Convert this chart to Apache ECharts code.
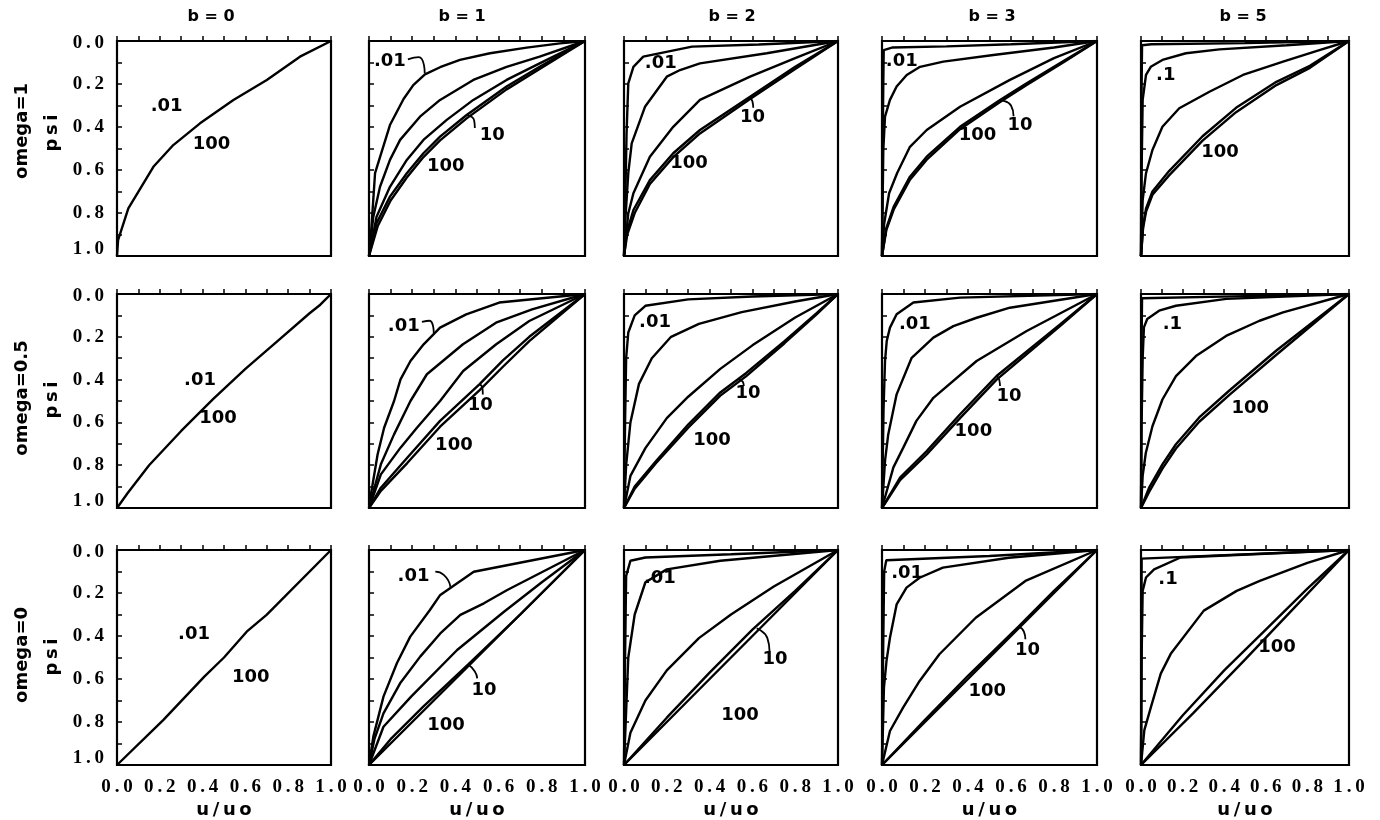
<!DOCTYPE html>
<html><head><meta charset="utf-8">
<script src="https://cdn.jsdelivr.net/npm/echarts/dist/echarts.min.js"></script>
<style>html,body{margin:0;padding:0;background:#fff}#c{width:1380px;height:820px}</style>
</head><body><div id="c"></div>
<script>
// ---------------- DATA ----------------
const bTitles = ['b = 0', 'b = 1', 'b = 2', 'b = 3', 'b = 5'];
const omegaTitles = ['omega=1', 'omega=0.5', 'omega=0'];
const yName = 'psi';
const xName = 'u/uo';
const curveParams = ['.01', '.1', '1', '10', '100'];

// each panel: list of curves (order = curveParams), points are [u/uo, psi]
const om1_b0 = [
  [[0,1],[0.005,0.926],[0.053,0.778],[0.17,0.585],[0.263,0.484],[0.388,0.383],[0.544,0.274],[0.70,0.181],[0.855,0.073],[1,0]]
];
const om1_b1 = [
  [[0,1],[0.005,0.96],[0.028,0.615],[0.097,0.391],[0.16,0.27],[0.205,0.205],[0.259,0.155],[0.329,0.122],[0.421,0.088],[0.56,0.057],[0.73,0.031],[0.884,0.011],[1,0]],
  [[0,1],[0.02,0.817],[0.051,0.678],[0.097,0.553],[0.144,0.46],[0.236,0.352],[0.329,0.274],[0.483,0.181],[0.637,0.12],[0.79,0.073],[1,0]],
  [[0,1],[0.035,0.817],[0.097,0.678],[0.175,0.553],[0.252,0.46],[0.36,0.367],[0.483,0.274],[0.637,0.181],[0.79,0.104],[1,0]],
  [[0,1],[0.035,0.848],[0.097,0.724],[0.175,0.615],[0.252,0.522],[0.329,0.445],[0.452,0.344],[0.637,0.212],[0.79,0.12],[1,0]],
  [[0,1],[0.04,0.862],[0.1,0.742],[0.175,0.635],[0.252,0.54],[0.329,0.462],[0.452,0.36],[0.637,0.225],[0.79,0.13],[1,0]]
];
const om1_b2 = [
  [[0,1],[0.003,0.894],[0.012,0.429],[0.02,0.197],[0.044,0.12],[0.09,0.073],[0.318,0.026],[0.63,0.016],[1,0]],
  [[0,1],[0.005,0.85],[0.012,0.74],[0.02,0.615],[0.036,0.476],[0.098,0.306],[0.2,0.166],[0.262,0.135],[0.355,0.104],[0.667,0.057],[1,0]],
  [[0,1],[0.02,0.802],[0.044,0.708],[0.121,0.538],[0.23,0.399],[0.355,0.274],[0.589,0.166],[0.8,0.08],[1,0]],
  [[0,1],[0.012,0.894],[0.044,0.786],[0.121,0.647],[0.23,0.522],[0.355,0.414],[0.589,0.259],[0.8,0.12],[1,0]],
  [[0,1],[0.015,0.9],[0.05,0.8],[0.121,0.665],[0.23,0.54],[0.355,0.43],[0.589,0.27],[0.8,0.13],[1,0]]
];
const om1_b3 = [
  [[0,1],[0.003,0.5],[0.006,0.2],[0.008,0.042],[0.05,0.03],[0.3,0.025],[0.6,0.015],[1,0]],
  [[0,1],[0.003,0.75],[0.006,0.507],[0.014,0.352],[0.037,0.274],[0.068,0.212],[0.115,0.158],[0.177,0.12],[0.285,0.096],[0.518,0.065],[0.8,0.03],[1,0]],
  [[0,1],[0.01,0.85],[0.033,0.708],[0.07,0.615],[0.13,0.492],[0.208,0.414],[0.363,0.306],[0.595,0.181],[0.8,0.08],[1,0]],
  [[0,1],[0.02,0.87],[0.054,0.771],[0.13,0.631],[0.208,0.538],[0.363,0.399],[0.549,0.274],[0.673,0.197],[0.85,0.09],[1,0]],
  [[0,1],[0.02,0.88],[0.054,0.785],[0.13,0.645],[0.208,0.552],[0.363,0.41],[0.549,0.284],[0.673,0.205],[0.85,0.095],[1,0]]
];
const om1_b5 = [
  [[0,1],[0.002,0.3],[0.005,0.02],[0.05,0.015],[0.5,0.01],[1,0]],
  [[0,1],[0.003,0.6],[0.008,0.274],[0.024,0.158],[0.047,0.12],[0.103,0.088],[0.216,0.057],[0.377,0.039],[0.7,0.02],[1,0]],
  [[0,1],[0.008,0.74],[0.024,0.615],[0.055,0.507],[0.103,0.399],[0.184,0.313],[0.329,0.236],[0.49,0.158],[0.683,0.096],[0.85,0.045],[1,0]],
  [[0,1],[0.01,0.86],[0.024,0.78],[0.055,0.70],[0.135,0.605],[0.296,0.443],[0.457,0.311],[0.651,0.19],[0.812,0.115],[1,0]],
  [[0,1],[0.01,0.87],[0.024,0.795],[0.055,0.715],[0.135,0.625],[0.296,0.463],[0.457,0.331],[0.651,0.205],[0.812,0.125],[1,0]]
];
const om05_b0 = [
  [[0,1],[0.05,0.93],[0.15,0.8],[0.3,0.64],[0.45,0.49],[0.6,0.35],[0.75,0.22],[0.9,0.09],[0.95,0.05],[0.97,0.03],[1,0]]
];
const om05_b1 = [
  [[0,1],[0.009,0.936],[0.04,0.749],[0.07,0.625],[0.116,0.5],[0.146,0.399],[0.192,0.313],[0.253,0.235],[0.329,0.157],[0.45,0.095],[0.603,0.04],[1,0]],
  [[0,1],[0.017,0.936],[0.055,0.796],[0.116,0.656],[0.192,0.5],[0.268,0.375],[0.435,0.235],[0.588,0.134],[0.755,0.072],[1,0]],
  [[0,1],[0.055,0.843],[0.146,0.718],[0.222,0.625],[0.329,0.5],[0.436,0.36],[0.589,0.235],[0.742,0.126],[1,0]],
  [[0,1],[0.055,0.905],[0.177,0.765],[0.329,0.593],[0.511,0.422],[0.62,0.31],[0.742,0.2],[1,0]],
  [[0,1],[0.055,0.92],[0.177,0.79],[0.329,0.62],[0.511,0.45],[0.62,0.34],[0.742,0.22],[1,0]]
];
const om05_b2 = [
  [[0,1],[0.005,0.6],[0.01,0.3],[0.02,0.18],[0.05,0.1],[0.1,0.055],[0.3,0.025],[0.6,0.012],[1,0]],
  [[0,1],[0.01,0.8],[0.03,0.6],[0.07,0.42],[0.13,0.3],[0.22,0.2],[0.35,0.14],[0.55,0.085],[0.8,0.035],[1,0]],
  [[0,1],[0.03,0.85],[0.1,0.72],[0.2,0.58],[0.3,0.48],[0.45,0.35],[0.6,0.24],[0.8,0.11],[1,0]],
  [[0,1],[0.05,0.9],[0.15,0.78],[0.3,0.61],[0.45,0.46],[0.57,0.37],[0.75,0.22],[0.9,0.09],[1,0]],
  [[0,1],[0.05,0.91],[0.15,0.79],[0.3,0.625],[0.45,0.475],[0.57,0.385],[0.75,0.23],[0.9,0.095],[1,0]]
];
const om05_b3 = [
  [[0,1],[0.007,0.547],[0.014,0.313],[0.022,0.22],[0.037,0.157],[0.068,0.095],[0.146,0.04],[0.363,0.017],[1,0]],
  [[0,1],[0.014,0.78],[0.029,0.656],[0.068,0.469],[0.138,0.298],[0.239,0.204],[0.332,0.15],[0.44,0.111],[0.595,0.064],[1,0]],
  [[0,1],[0.053,0.81],[0.099,0.718],[0.16,0.593],[0.239,0.485],[0.44,0.313],[0.673,0.173],[1,0]],
  [[0,1],[0.084,0.858],[0.208,0.734],[0.363,0.562],[0.533,0.383],[0.828,0.142],[1,0]],
  [[0,1],[0.084,0.87],[0.208,0.75],[0.363,0.58],[0.533,0.4],[0.828,0.15],[1,0]]
];
const om05_b5 = [
  [[0,1],[0.002,0.3],[0.005,0.02],[0.5,0.01],[1,0]],
  [[0,1],[0.003,0.6],[0.008,0.3],[0.014,0.156],[0.03,0.117],[0.087,0.078],[0.168,0.055],[0.41,0.023],[1,0]],
  [[0,1],[0.008,0.85],[0.023,0.743],[0.055,0.618],[0.103,0.493],[0.168,0.384],[0.264,0.29],[0.409,0.196],[0.57,0.125],[0.683,0.086],[1,0]],
  [[0,1],[0.039,0.905],[0.103,0.796],[0.168,0.702],[0.28,0.577],[0.425,0.451],[0.651,0.264],[1,0]],
  [[0,1],[0.039,0.925],[0.103,0.816],[0.168,0.722],[0.28,0.597],[0.425,0.471],[0.651,0.284],[1,0]]
];
const om0_b0 = [
  [[0,1],[0.217,0.79],[0.408,0.589],[0.5,0.5],[0.606,0.38],[0.699,0.302],[1,0]]
];
const om0_b1 = [
  [[0,1],[0.02,0.868],[0.067,0.682],[0.129,0.527],[0.191,0.403],[0.282,0.279],[0.33,0.209],[0.485,0.101],[1,0]],
  [[0,1],[0.025,0.88],[0.067,0.76],[0.144,0.62],[0.237,0.496],[0.33,0.388],[0.423,0.302],[0.532,0.248],[0.64,0.186],[1,0]],
  [[0,1],[0.067,0.822],[0.195,0.682],[0.408,0.465],[0.625,0.287],[0.8,0.15],[1,0]],
  [[0,1],[0.1,0.88],[0.25,0.73],[0.462,0.53],[0.7,0.3],[1,0]],
  [[0,1],[0.25,0.75],[0.5,0.5],[0.75,0.25],[1,0]]
];
const om0_b2 = [
  [[0,1],[0.005,0.5],[0.01,0.12],[0.03,0.05],[0.1,0.035],[0.5,0.02],[1,0]],
  [[0,1],[0.01,0.75],[0.02,0.5],[0.05,0.3],[0.1,0.15],[0.2,0.09],[0.45,0.05],[1,0]],
  [[0,1],[0.03,0.85],[0.1,0.7],[0.2,0.56],[0.35,0.41],[0.5,0.3],[0.7,0.17],[1,0]],
  [[0,1],[0.2,0.78],[0.4,0.57],[0.6,0.37],[0.8,0.19],[1,0]],
  [[0,1],[0.25,0.75],[0.5,0.5],[0.75,0.25],[1,0]]
];
const om0_b3 = [
  [[0,1],[0.005,0.5],[0.01,0.1],[0.02,0.048],[0.5,0.028],[1,0]],
  [[0,1],[0.009,0.64],[0.021,0.516],[0.037,0.408],[0.068,0.253],[0.114,0.175],[0.175,0.129],[0.283,0.082],[0.59,0.036],[1,0]],
  [[0,1],[0.037,0.842],[0.098,0.733],[0.175,0.609],[0.267,0.485],[0.436,0.315],[0.667,0.144],[1,0]],
  [[0,1],[0.2,0.79],[0.4,0.585],[0.636,0.355],[0.8,0.19],[1,0]],
  [[0,1],[0.25,0.75],[0.5,0.5],[0.75,0.25],[1,0]]
];
const om0_b5 = [
  [[0,1],[0.002,0.5],[0.003,0.04],[1,0]],
  [[0,1],[0.003,0.5],[0.008,0.19],[0.024,0.128],[0.063,0.09],[0.19,0.035],[1,0]],
  [[0,1],[0.016,0.838],[0.048,0.73],[0.095,0.575],[0.143,0.483],[0.302,0.282],[0.46,0.19],[0.571,0.144],[0.8,0.06],[1,0]],
  [[0,1],[0.2,0.77],[0.4,0.56],[0.6,0.37],[0.8,0.18],[1,0]],
  [[0,1],[0.25,0.76],[0.5,0.51],[0.75,0.255],[1,0]]
];

// curve annotations: [text, u, psi]
const om1_b0_notes = [['.01',0.232,0.306],['100',0.442,0.479]];
const om1_b1_notes = [['.01',0.097,0.096],['10',0.571,0.437],['100',0.355,0.585]];
const om1_b2_notes = [['.01',0.172,0.104],['10',0.6,0.355],['100',0.304,0.569]];
const om1_b3_notes = [['.01',0.092,0.096],['10',0.642,0.391],['100',0.444,0.44]];
const om1_b5_notes = [['.1',0.119,0.158],['100',0.38,0.518]];
const om05_b0_notes = [['.01',0.388,0.402],['100',0.472,0.579]];
const om05_b1_notes = [['.01',0.161,0.15],['10',0.515,0.519],['100',0.393,0.706]];
const om05_b2_notes = [['.01',0.145,0.131],['10',0.579,0.463],['100',0.411,0.682]];
const om05_b3_notes = [['.01',0.153,0.142],['10',0.591,0.48],['100',0.425,0.643]];
const om05_b5_notes = [['.1',0.151,0.144],['100',0.525,0.532]];
const om0_b0_notes = [['.01',0.36,0.391],['100',0.625,0.592]];
const om0_b1_notes = [['.01',0.206,0.124],['10',0.532,0.651],['100',0.357,0.814]];
const om0_b2_notes = [['.01',0.168,0.13],['10',0.706,0.51],['100',0.542,0.767]];
const om0_b3_notes = [['.01',0.117,0.108],['10',0.677,0.465],['100',0.49,0.659]];
const om0_b5_notes = [['.1',0.13,0.136],['100',0.654,0.452]];

// leader hooks from annotations to curves: [[u,psi],...]
const om1_b1_hooks = [[[0.18,0.085],[0.23,0.075],[0.258,0.15]], [[0.49,0.405],[0.487,0.37],[0.455,0.345]]];
const om1_b2_hooks = [[[0.604,0.31],[0.6,0.28],[0.585,0.262]]];
const om1_b3_hooks = [[[0.612,0.35],[0.6,0.3],[0.55,0.276]]];
const om05_b1_hooks = [[[0.245,0.13],[0.28,0.125],[0.3,0.185]], [[0.527,0.47],[0.525,0.44],[0.511,0.42]]];
const om05_b2_hooks = [[[0.56,0.43],[0.555,0.41],[0.535,0.40]]];
const om05_b3_hooks = [[[0.549,0.43],[0.545,0.40],[0.533,0.383]]];
const om0_b1_hooks = [[[0.307,0.101],[0.346,0.116],[0.377,0.171]], [[0.501,0.597],[0.49,0.565],[0.462,0.535]]];
const om0_b2_hooks = [[[0.68,0.47],[0.67,0.41],[0.62,0.365]]];
const om0_b3_hooks = [[[0.667,0.415],[0.66,0.38],[0.636,0.358]]];

// ---------------- LAYOUT ----------------
const panels = [
  [om1_b0, om1_b1, om1_b2, om1_b3, om1_b5],
  [om05_b0, om05_b1, om05_b2, om05_b3, om05_b5],
  [om0_b0, om0_b1, om0_b2, om0_b3, om0_b5]
];
const notes = [
  [om1_b0_notes, om1_b1_notes, om1_b2_notes, om1_b3_notes, om1_b5_notes],
  [om05_b0_notes, om05_b1_notes, om05_b2_notes, om05_b3_notes, om05_b5_notes],
  [om0_b0_notes, om0_b1_notes, om0_b2_notes, om0_b3_notes, om0_b5_notes]
];
const hooks = [
  [[], om1_b1_hooks, om1_b2_hooks, om1_b3_hooks, []],
  [[], om05_b1_hooks, om05_b2_hooks, om05_b3_hooks, []],
  [[], om0_b1_hooks, om0_b2_hooks, om0_b3_hooks, []]
];
const colLeft = [117, 369, 624, 882, 1141];
const colWidth = [214, 216, 214, 215, 208];
const rowTop = [41, 294, 550];
const rowHeight = [215, 214, 215];
const titleX = [211, 462, 732, 992, 1243];
const rowLabelY = [131, 398, 655];

const SANS = '"DejaVu Sans", Arial, sans-serif';
const SERIF = '"Liberation Serif", "Times New Roman", serif';
const TS = '\u2009';

function tickText(v) {
  const k = Math.round(v * 10);
  if (k % 2 !== 0 || k < 0 || k > 10) return '';
  return (k / 10).toFixed(1).split('').join(TS);
}
const tickFont = {fontFamily: SERIF, fontWeight: 'bold', fontSize: 19, color: '#000'};

const grids = [], xAxes = [], yAxes = [], series = [];
for (let r = 0; r < 3; r++) {
  for (let c = 0; c < 5; c++) {
    const i = r * 5 + c;
    grids.push({left: colLeft[c], top: rowTop[r], width: colWidth[c], height: rowHeight[r],
      show: true, borderColor: '#000', borderWidth: 2.2, backgroundColor: 'transparent'});
    xAxes.push({
      gridIndex: i, type: 'value', min: 0, max: 1, interval: 0.1,
      axisLine: {show: false},
      axisTick: {show: true, inside: true, length: 5, lineStyle: {color: '#000', width: 1.5}},
      splitLine: {show: false},
      axisLabel: {show: r === 2, margin: 13, formatter: tickText, ...tickFont},
      name: r === 2 ? xName.split('').join(TS) : '',
      nameLocation: 'middle', nameGap: 36,
      nameTextStyle: {fontFamily: SANS, fontWeight: 'bold', fontSize: 18, color: '#000'}
    });
    yAxes.push({
      gridIndex: i, type: 'value', min: 0, max: 1, interval: 0.1, inverse: true,
      axisLine: {show: false},
      axisTick: {show: true, inside: true, length: 5, lineStyle: {color: '#000', width: 1.5}},
      splitLine: {show: false},
      axisLabel: {
        show: c === 0, margin: 13,
        formatter: function (v) {
          const t = tickText(v);
          if (!t) return '';
          const k = Math.round(v * 10);
          if (k === 10) return '{lo|' + t + '}';
          if (k === 0) return '{hi|' + t + '}';
          return '{n|' + t + '}';
        },
        rich: {
          n: {...tickFont},
          lo: {...tickFont, padding: [0, 0, 14, 0]},
          hi: {...tickFont, padding: [4, 0, 0, 0]}
        }
      }
    });
    panels[r][c].forEach(function (curve) {
      series.push({type: 'line', xAxisIndex: i, yAxisIndex: i, data: curve,
        symbol: 'none', showSymbol: false, silent: true, animation: false,
        lineStyle: {color: '#000', width: 2.4}});
    });
    hooks[r][c].forEach(function (h) {
      series.push({type: 'line', xAxisIndex: i, yAxisIndex: i, data: h, smooth: 0.6,
        symbol: 'none', showSymbol: false, silent: true, animation: false,
        lineStyle: {color: '#000', width: 1.8}});
    });
    series.push({type: 'scatter', xAxisIndex: i, yAxisIndex: i, silent: true, animation: false,
      symbolSize: 0, itemStyle: {color: '#000'},
      data: notes[r][c].map(function (n) { return [n[1], n[2], n[0]]; }),
      label: {show: true, position: 'inside', formatter: function (p) { return p.data[2]; },
        fontFamily: SANS, fontWeight: 'bold', fontSize: 18, color: '#000',
        textBorderWidth: 0, textBorderColor: 'transparent', opacity: 1}});
  }
}

const graphics = [];
bTitles.forEach(function (t, c) {
  graphics.push({type: 'text', x: titleX[c], y: 17,
    style: {text: t, font: 'bold 16px ' + SANS, fill: '#000', textAlign: 'center', textVerticalAlign: 'middle', verticalAlign: 'middle'}});
});
omegaTitles.forEach(function (t, r) {
  graphics.push({type: 'text', x: 22, y: rowLabelY[r], rotation: Math.PI / 2,
    style: {text: t, font: 'bold 18px ' + SANS, fill: '#000', textAlign: 'center', textVerticalAlign: 'middle', verticalAlign: 'middle'}});
  graphics.push({type: 'text', x: 52, y: rowLabelY[r] + 2, rotation: Math.PI / 2,
    style: {text: yName.split('').join(TS), font: 'bold 18px ' + SANS, fill: '#000', textAlign: 'center', textVerticalAlign: 'middle', verticalAlign: 'middle'}});
});

const chart = echarts.init(document.getElementById('c'), null, {renderer: 'canvas', width: 1380, height: 820});
chart.setOption({
  backgroundColor: '#fff',
  animation: false,
  grid: grids, xAxis: xAxes, yAxis: yAxes, series: series, graphic: graphics
});
</script></body></html>
